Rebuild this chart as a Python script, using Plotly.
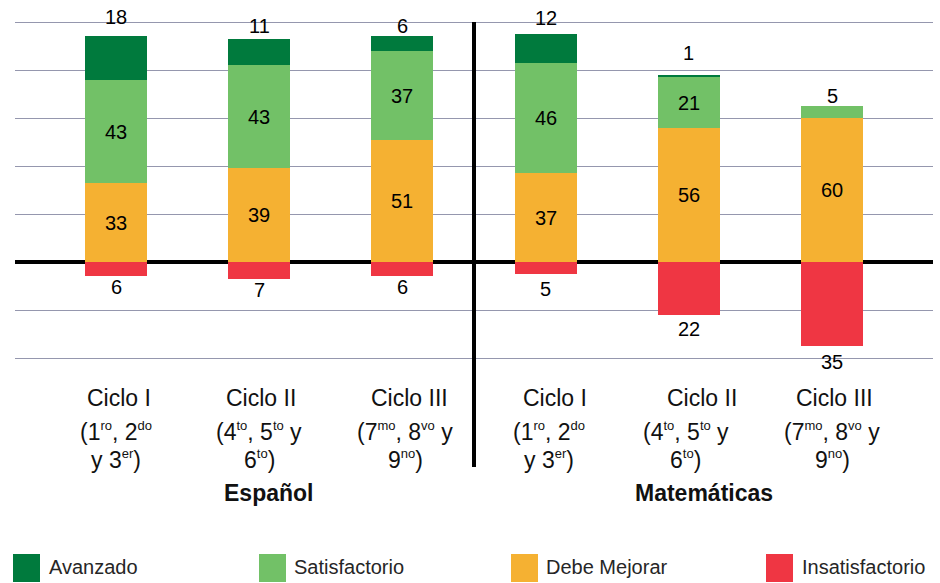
import plotly.graph_objects as go

# ---- data -------------------------------------------------------------
subjects = ["Español", "Matemáticas"]
ciclo_line1 = ["Ciclo I", "Ciclo II", "Ciclo III", "Ciclo I", "Ciclo II", "Ciclo III"]
ciclo_line2 = [("1", "ro", ", 2", "do", ""), ("4", "to", ", 5", "to", " y"),
               ("7", "mo", ", 8", "vo", " y"), ("1", "ro", ", 2", "do", ""),
               ("4", "to", ", 5", "to", " y"), ("7", "mo", ", 8", "vo", " y")]
ciclo_line3 = [("y 3", "er"), ("6", "to"), ("9", "no"),
               ("y 3", "er"), ("6", "to"), ("9", "no")]

avanzado = [18, 11, 6, 12, 1, 0]
satisfactorio = [43, 43, 37, 46, 21, 5]
debe_mejorar = [33, 39, 51, 37, 56, 60]
insatisfactorio = [6, 7, 6, 5, 22, 35]

levels = ["Avanzado", "Satisfactorio", "Debe Mejorar", "Insatisfactorio"]
colors = ["#007A3D", "#72C167", "#F5B132", "#EF3643"]

# ---- geometry ---------------------------------------------------------
W, H = 940, 583
ZERO_PX, TOP_PX, PPU = 262, 22, 2.40          # zero line, 100 % line, px per unit
X0_PX, X1_PX, CAT0_PX, STEP_PX = 15, 933, 116, 143.2

y_top = (ZERO_PX) / PPU
y_bot = -(H - ZERO_PX) / PPU
x_lo = -(CAT0_PX - X0_PX) / STEP_PX
x_hi = 5 + (X1_PX - (CAT0_PX + 5 * STEP_PX)) / STEP_PX

FONT = "Liberation Sans, Arial, sans-serif"
VAL_SIZE = 20
CAT_SIZE = 23
SUP_SIZE = 13
xs = list(range(len(ciclo_line1)))


def py(p):
    return 1 - p / H


def px(p):
    return p / W


def sup(s):
    return f"<sup><span style='font-size:{SUP_SIZE}px'>{s}</span></sup>"


fig = go.Figure()

# Positive stack, bottom to top
fig.add_trace(go.Bar(x=xs, y=debe_mejorar, marker_color=colors[2], name=levels[2],
                     text=debe_mejorar, textposition="inside", insidetextanchor="middle"))
fig.add_trace(go.Bar(x=xs, y=satisfactorio, marker_color=colors[1], name=levels[1],
                     text=[str(v) if v >= 10 else "" for v in satisfactorio],
                     textposition="inside", insidetextanchor="middle"))
fig.add_trace(go.Bar(x=xs, y=avanzado, marker_color=colors[0], name=levels[0],
                     textposition="none"))
# Negative side
fig.add_trace(go.Bar(x=xs, y=[-v for v in insatisfactorio], marker_color=colors[3],
                     name=levels[3], textposition="none"))

fig.update_traces(width=0.433, marker_line_width=0, showlegend=False,
                  textfont=dict(family=FONT, size=VAL_SIZE, color="#000000"),
                  insidetextfont=dict(family=FONT, size=VAL_SIZE, color="#000000"),
                  textangle=0, hoverinfo="skip")

annotations = []

# Value above each positive stack (top non-empty segment)
top_shift = [19, 13, 10, 16, 22, 10]
for i in xs:
    total = avanzado[i] + satisfactorio[i] + debe_mejorar[i]
    val = avanzado[i] if avanzado[i] > 0 else satisfactorio[i]
    annotations.append(dict(x=i, y=total, xref="x", yref="y", text=str(val),
                            showarrow=False, yshift=top_shift[i], yanchor="middle",
                            font=dict(family=FONT, size=VAL_SIZE, color="#000000")))

# Value below each negative bar
bot_shift = [11, 11, 11, 15, 14, 16]
for i in xs:
    annotations.append(dict(x=i, y=-insatisfactorio[i], xref="x", yref="y",
                            text=str(insatisfactorio[i]), showarrow=False,
                            yshift=-bot_shift[i], yanchor="middle",
                            font=dict(family=FONT, size=VAL_SIZE, color="#000000")))

# Category labels, three lines each
line1_dx = [3, 2, 7, 9, 13, 2]
line23_dx = [0, 0, 3, 3, -3, 0]
line_y = [398, 431, 459]
for i in xs:
    a, s1, b, s2, c = ciclo_line2[i]
    l2 = f"({a}{sup(s1)}{b}{sup(s2)}{c}"
    d, s3 = ciclo_line3[i]
    l3 = f"{d}{sup(s3)})"
    for k, (txt, dx) in enumerate([(ciclo_line1[i], line1_dx[i]),
                                   (l2, line23_dx[i]),
                                   (l3, line23_dx[i])]):
        annotations.append(dict(x=i, y=py(line_y[k]), xref="x", yref="paper",
                                text=txt, showarrow=False, xshift=dx,
                                xanchor="center", yanchor="middle",
                                font=dict(family=FONT, size=CAT_SIZE, color="#111111")))

# Subject titles
for name, cx in zip(subjects, [268, 704]):
    annotations.append(dict(x=px(cx), y=py(493), xref="paper", yref="paper",
                            text=f"<b>{name}</b>", showarrow=False,
                            xanchor="center", yanchor="middle",
                            font=dict(family=FONT, size=CAT_SIZE, color="#111111")))

# Legend: swatches and names
shapes = []
legend_sw = [13, 259, 511, 766]
legend_txt = [47, 292, 544, 800]
for name, col, sx, tx in zip(levels, colors, legend_sw, legend_txt):
    shapes.append(dict(type="rect", xref="paper", yref="paper",
                       x0=px(sx), x1=px(sx + 27), y0=py(554), y1=py(582),
                       fillcolor=col, line_width=0))
    annotations.append(dict(x=px(tx), y=py(567), xref="paper", yref="paper",
                            text=name, showarrow=False, xanchor="left",
                            yanchor="middle",
                            font=dict(family=FONT, size=20, color="#262626")))

# Divider between the two subjects
shapes.append(dict(type="line", xref="x", yref="paper", x0=2.5, x1=2.5,
                   y0=py(TOP_PX), y1=py(467), line=dict(color="#000000", width=4)))

fig.update_layout(
    width=W, height=H,
    margin=dict(l=0, r=0, t=0, b=0),
    paper_bgcolor="#FFFFFF", plot_bgcolor="#FFFFFF",
    barmode="relative", bargap=0,
    showlegend=False,
    annotations=annotations,
    shapes=shapes,
    uniformtext=dict(mode=False),
    xaxis=dict(domain=[px(X0_PX), px(X1_PX)], range=[x_lo, x_hi],
               showgrid=False, zeroline=False, showticklabels=False,
               showline=False, fixedrange=True),
    yaxis=dict(domain=[0, 1], range=[y_bot, y_top],
               tickvals=[-40, -20, 0, 20, 40, 60, 80, 100],
               showticklabels=False, showgrid=True,
               gridcolor="#9597AE", gridwidth=1.3,
               zeroline=True, zerolinecolor="#000000", zerolinewidth=4,
               showline=False, fixedrange=True),
)

fig.write_html("out.html")
